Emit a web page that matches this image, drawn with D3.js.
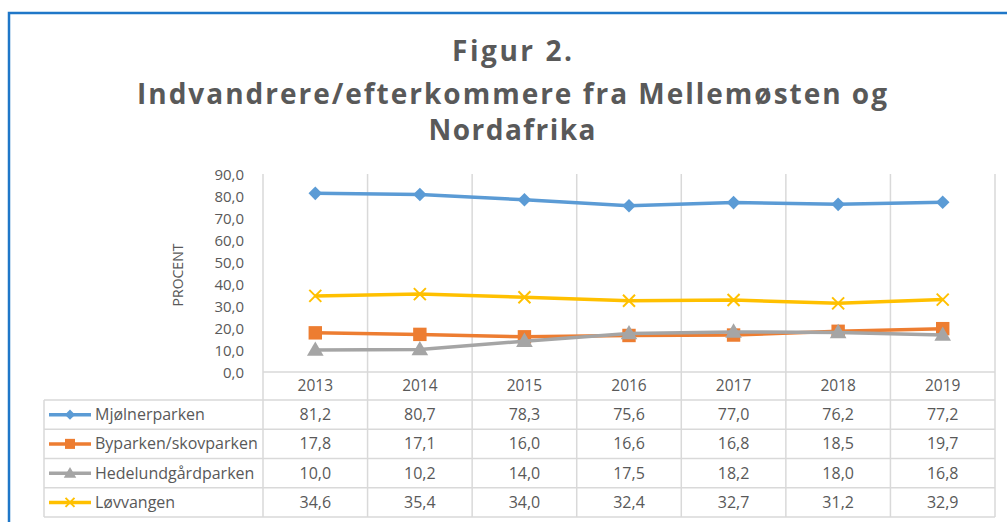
<!DOCTYPE html>
<html>
<head>
<meta charset="utf-8">
<script src="https://cdn.jsdelivr.net/npm/d3@7"></script>
<style>
  body { margin: 0; background: #fff; }
  svg { display: block; font-family: "Open Sans", "Liberation Sans", sans-serif; }
</style>
</head>
<body>
<svg width="1007" height="522"></svg>
<script>
// DATA
var years = ["2013", "2014", "2015", "2016", "2017", "2018", "2019"];
var mjolnerparken = [81.2, 80.7, 78.3, 75.6, 77.0, 76.2, 77.2];
var byparken = [17.8, 17.1, 16.0, 16.6, 16.8, 18.5, 19.7];
var hedelund = [10.0, 10.2, 14.0, 17.5, 18.2, 18.0, 16.8];
var lovvangen = [34.6, 35.4, 34.0, 32.4, 32.7, 31.2, 32.9];
var seriesNames = ["Mjølnerparken", "Byparken/skovparken", "Hedelundgårdparken", "Løvvangen"];
var yTicks = [0, 10, 20, 30, 40, 50, 60, 70, 80, 90];
var titleLines = ["Figur 2.", "Indvandrere/efterkommere fra Mellemøsten og", "Nordafrika"];

var series = [
  { name: seriesNames[0], values: mjolnerparken, colour: "#5B9BD5", symbol: "diamond" },
  { name: seriesNames[1], values: byparken, colour: "#ED7D31", symbol: "square" },
  { name: seriesNames[2], values: hedelund, colour: "#A5A5A5", symbol: "triangle" },
  { name: seriesNames[3], values: lovvangen, colour: "#FFC000", symbol: "cross" }
];

var svg = d3.select("svg");
var textCol = "#595959", gridCol = "#d9d9d9";

// outer frame
svg.append("rect")
  .attr("x", 9).attr("y", 13)
  .attr("width", 1030).attr("height", 540)
  .attr("fill", "none")
  .attr("stroke", "#1f77c8")
  .attr("stroke-width", 2.5);

// TITLE
var titleY = [61, 104, 140], titleW = [120, 750, 167];
svg.selectAll(".title")
  .data(titleLines)
  .enter().append("text")
  .attr("class", "title")
  .attr("x", 512)
  .attr("y", function(d, i) { return titleY[i]; })
  .attr("text-anchor", "middle")
  .attr("font-size", 28)
  .attr("font-weight", "bold")
  .attr("fill", textCol)
  .attr("textLength", function(d, i) { return titleW[i]; })
  .attr("lengthAdjust", "spacing")
  .text(function(d) { return d; });

// SCALES
var plotL = 263, plotR = 995, plotT = 174, plotB = 372;
var x = d3.scaleBand().domain(years).range([plotL, plotR]);
var y = d3.scaleLinear().domain([0, 90]).range([plotB, plotT]);
var rows = d3.scaleBand().domain(seriesNames).range([400, 517]);

// vertical grid lines (category boundaries), running through the table
var bounds = years.map(function(d) { return x(d); }).concat([plotR]);
svg.selectAll(".vgrid")
  .data(bounds)
  .enter().append("line")
  .attr("x1", function(d) { return d; }).attr("x2", function(d) { return d; })
  .attr("y1", plotT).attr("y2", 517)
  .attr("stroke", gridCol).attr("stroke-width", 1.5);

// x axis line
svg.append("line")
  .attr("x1", plotL).attr("x2", plotR)
  .attr("y1", plotB).attr("y2", plotB)
  .attr("stroke", gridCol).attr("stroke-width", 1.5);

// table horizontal lines and left border
svg.selectAll(".hrow")
  .data(seriesNames.concat(["end"]))
  .enter().append("line")
  .attr("x1", 44).attr("x2", plotR)
  .attr("y1", function(d, i) { return 400 + i * rows.bandwidth(); })
  .attr("y2", function(d, i) { return 400 + i * rows.bandwidth(); })
  .attr("stroke", gridCol).attr("stroke-width", 1.5);
svg.append("line")
  .attr("x1", 44).attr("x2", 44).attr("y1", 400).attr("y2", 517)
  .attr("stroke", gridCol).attr("stroke-width", 1.5);

// Y AXIS
var yAxis = svg.append("g")
  .attr("transform", "translate(" + (plotL - 16) + ",0)")
  .call(d3.axisLeft(y).tickValues(yTicks).tickSize(0)
    .tickFormat(function(d) { return d3.format(".1f")(d).replace(".", ","); }));
yAxis.select(".domain").remove();
yAxis.selectAll("text")
  .attr("fill", textCol)
  .attr("font-size", 15)
  .attr("font-family", "'Open Sans', sans-serif")
  .attr("dy", "0.35em");

svg.append("text")
  .attr("transform", "translate(183,275) rotate(-90)")
  .attr("text-anchor", "middle")
  .attr("font-size", 14)
  .attr("fill", textCol)
  .text("PROCENT");

// year header row
svg.selectAll(".year")
  .data(years)
  .enter().append("text")
  .attr("x", function(d) { return x(d) + x.bandwidth() / 2; })
  .attr("y", 391)
  .attr("text-anchor", "middle")
  .attr("font-size", 15.5)
  .attr("fill", textCol)
  .text(function(d) { return d; });

// SYMBOLS
function marker(sel, s, cx, cy, scale) {
  var k = scale || 1;
  if (s.symbol === "cross") {
    var r = 6 * k;
    sel.append("path")
      .attr("d", "M" + (cx - r) + "," + (cy - r) + "L" + (cx + r) + "," + (cy + r) +
        "M" + (cx - r) + "," + (cy + r) + "L" + (cx + r) + "," + (cy - r))
      .attr("stroke", s.colour).attr("stroke-width", 2).attr("fill", "none");
  } else if (s.symbol === "diamond") {
    sel.append("path")
      .attr("d", d3.symbol().type(d3.symbolSquare).size(92 * k * k)())
      .attr("transform", "translate(" + cx + "," + cy + ") rotate(45)")
      .attr("fill", s.colour);
  } else {
    var type = s.symbol === "square" ? d3.symbolSquare : d3.symbolTriangle;
    var size = s.symbol === "square" ? 180 : 120;
    sel.append("path")
      .attr("d", d3.symbol().type(type).size(size * k * k)())
      .attr("transform", "translate(" + cx + "," + (cy + (s.symbol === "triangle" ? 1 : 0)) + ")")
      .attr("fill", s.colour);
  }
}

// LINES
var line = d3.line()
  .x(function(d, i) { return x(years[i]) + x.bandwidth() / 2; })
  .y(function(d) { return y(d); });

series.forEach(function(s) {
  var g = svg.append("g");
  g.append("path")
    .attr("d", line(s.values))
    .attr("fill", "none")
    .attr("stroke", s.colour)
    .attr("stroke-width", 3.5)
    .attr("stroke-linejoin", "round");
  s.values.forEach(function(v, i) {
    marker(g, s, x(years[i]) + x.bandwidth() / 2, y(v));
  });
});

// TABLE ROWS
series.forEach(function(s) {
  var cy = rows(s.name) + rows.bandwidth() / 2;
  var g = svg.append("g");
  g.append("line")
    .attr("x1", 49).attr("x2", 91)
    .attr("y1", cy).attr("y2", cy)
    .attr("stroke", s.colour).attr("stroke-width", 3.5);
  marker(g, s, 70, cy, 0.75);
  g.append("text")
    .attr("x", 95).attr("y", cy + 5.5)
    .attr("font-size", 16)
    .attr("fill", textCol)
    .text(s.name);
  g.selectAll(".val")
    .data(s.values)
    .enter().append("text")
    .attr("x", function(d, i) { return x(years[i]) + x.bandwidth() / 2; })
    .attr("y", cy + 5.5)
    .attr("text-anchor", "middle")
    .attr("font-size", 16)
    .attr("fill", textCol)
    .text(function(d) { return d3.format(".1f")(d).replace(".", ","); });
});
</script>
</body>
</html>
